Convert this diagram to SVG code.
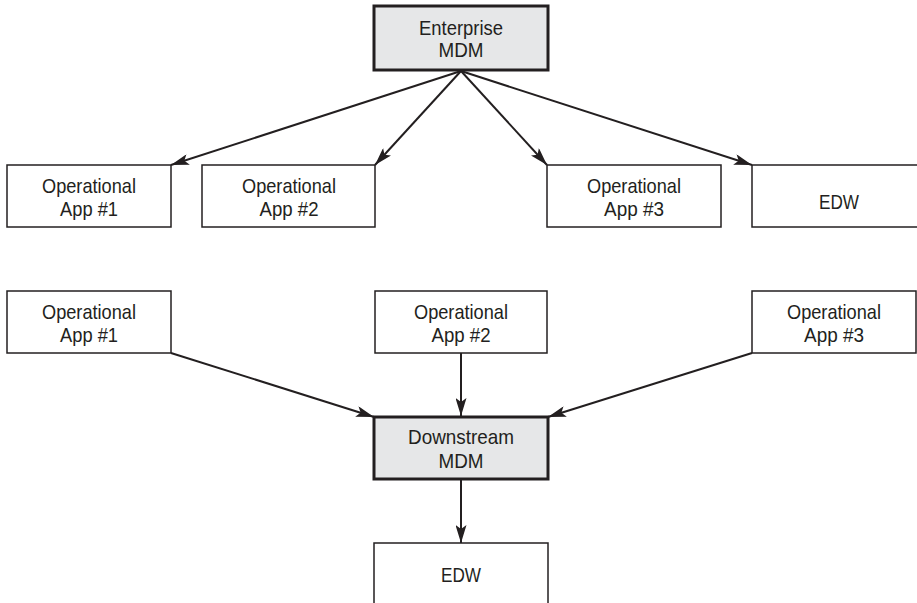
<svg xmlns="http://www.w3.org/2000/svg" width="917" height="603" viewBox="0 0 917 603">
<style>
.box{fill:#fff;stroke:#231f20;stroke-width:1.5}
.mdm{fill:#e6e7e8;stroke:#231f20;stroke-width:3}
text{font-family:"Liberation Sans",Arial,sans-serif;font-size:21px;fill:#231f20;text-anchor:middle}
.conn line{stroke:#231f20;stroke-width:2;marker-end:url(#ah)}
</style>
<defs>
<marker id="ah" viewBox="0 0 18 11" refX="18" refY="5.5" markerWidth="18" markerHeight="11" markerUnits="userSpaceOnUse" orient="auto">
<path d="M0,0 L18,5.5 L0,11 L4,5.5 Z" fill="#231f20"/>
</marker>
</defs>
<rect width="917" height="603" fill="#fff"/>
<g id="enterprise-mdm"><rect class="mdm" x="374" y="6" width="174" height="64"/><text x="461" y="35" textLength="84" lengthAdjust="spacingAndGlyphs">Enterprise</text><text x="461" y="57" textLength="45" lengthAdjust="spacingAndGlyphs">MDM</text></g>
<g id="top-app1"><rect class="box" x="7" y="165" width="164" height="62"/><text x="89" y="193" textLength="94" lengthAdjust="spacingAndGlyphs">Operational</text><text x="89" y="216" textLength="58" lengthAdjust="spacingAndGlyphs">App #1</text></g>
<g id="top-app2"><rect class="box" x="202" y="165" width="173" height="62"/><text x="289" y="193" textLength="94" lengthAdjust="spacingAndGlyphs">Operational</text><text x="289" y="216" textLength="59" lengthAdjust="spacingAndGlyphs">App #2</text></g>
<g id="top-app3"><rect class="box" x="547" y="165" width="174" height="62"/><text x="634" y="193" textLength="94" lengthAdjust="spacingAndGlyphs">Operational</text><text x="634" y="216" textLength="60" lengthAdjust="spacingAndGlyphs">App #3</text></g>
<g id="top-edw"><rect class="box" x="752" y="165" width="166" height="62"/><text x="839" y="209" textLength="40" lengthAdjust="spacingAndGlyphs">EDW</text></g>
<g id="bot-app1"><rect class="box" x="7" y="291" width="164" height="62"/><text x="89" y="319" textLength="94" lengthAdjust="spacingAndGlyphs">Operational</text><text x="89" y="342" textLength="58" lengthAdjust="spacingAndGlyphs">App #1</text></g>
<g id="bot-app2"><rect class="box" x="375" y="291" width="172" height="62"/><text x="461" y="319" textLength="94" lengthAdjust="spacingAndGlyphs">Operational</text><text x="461" y="342" textLength="59" lengthAdjust="spacingAndGlyphs">App #2</text></g>
<g id="bot-app3"><rect class="box" x="752" y="291" width="164" height="62"/><text x="834" y="319" textLength="94" lengthAdjust="spacingAndGlyphs">Operational</text><text x="834" y="342" textLength="60" lengthAdjust="spacingAndGlyphs">App #3</text></g>
<g id="downstream-mdm"><rect class="mdm" x="374" y="417" width="174" height="62"/><text x="461" y="444" textLength="106" lengthAdjust="spacingAndGlyphs">Downstream</text><text x="461" y="468" textLength="45" lengthAdjust="spacingAndGlyphs">MDM</text></g>
<g id="bot-edw"><rect class="box" x="374" y="543" width="174" height="70"/><text x="461" y="582" textLength="40" lengthAdjust="spacingAndGlyphs">EDW</text></g>
<g class="conn" id="connectors">
<line x1="461" y1="71" x2="171" y2="165"/>
<line x1="461" y1="71" x2="375" y2="165"/>
<line x1="461" y1="71" x2="547" y2="165"/>
<line x1="461" y1="71" x2="752" y2="165"/>
<line x1="171" y1="353" x2="374" y2="417"/>
<line x1="461" y1="353" x2="461" y2="416"/>
<line x1="752" y1="353" x2="548" y2="417"/>
<line x1="461" y1="480" x2="461" y2="543"/>
</g>
</svg>
